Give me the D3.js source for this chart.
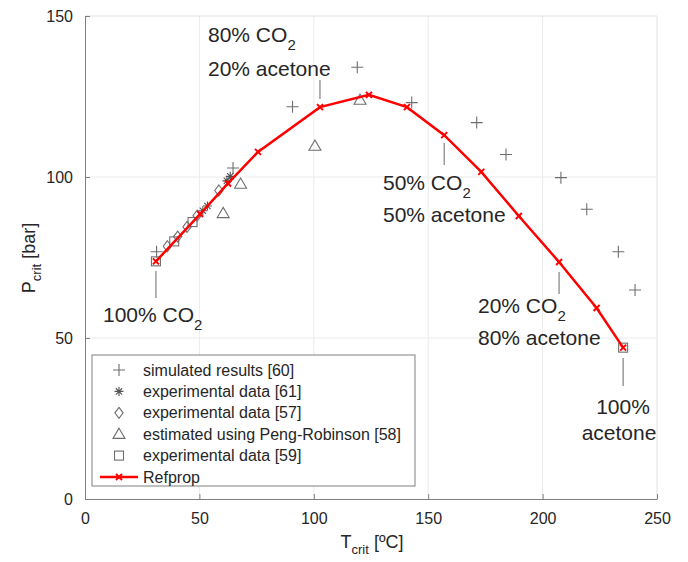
<!DOCTYPE html>
<html>
<head>
<meta charset="utf-8">
<script src="https://cdn.jsdelivr.net/npm/d3@7"></script>
<style>
  body { margin: 0; background: #fff; }
  svg text { font-family: "Liberation Sans", Arial, sans-serif; fill: #262626; }
</style>
</head>
<body>
<div id="chart"></div>
<script>
// ---- data ----
const xTicks = [0, 50, 100, 150, 200, 250];
const yTicks = [0, 50, 100, 150];

// Refprop curve: [T, P]
const refprop = [
  [31.0, 73.8], [50.3, 88.5], [62.5, 98.0], [75.6, 107.8], [102.7, 121.7],
  [124.1, 125.5], [140.7, 121.7], [157.0, 113.0], [173.2, 101.6],
  [189.6, 87.9], [207.2, 73.6], [223.6, 59.3], [235.2, 47.0]
];
const simulated = [
  [31.3, 76.8], [64.7, 102.8], [90.7, 121.8], [119.0, 134.1], [142.8, 123.1],
  [171.2, 116.9], [184.0, 107.0], [208.0, 99.8], [219.3, 90.0], [233.1, 76.8], [240.4, 64.9]
];
const exp61 = [[51.5, 89.5], [53.5, 91.0], [62.0, 98.8], [63.5, 100.2]];
const exp57 = [[36.0, 78.5], [40.5, 81.5], [44.6, 84.5], [49.0, 88.0], [58.5, 95.8]];
const pengRobinson = [[60.4, 88.7], [68.0, 97.8], [100.5, 109.6], [120.2, 123.9]];
const exp59 = [[31.0, 73.8], [39.0, 80.0], [47.0, 86.0], [235.2, 47.0]];

const legendLabels = [
  'simulated results [60]', 'experimental data [61]', 'experimental data [57]',
  'estimated using Peng-Robinson [58]', 'experimental data [59]', 'Refprop'
];

// ---- layout ----
const W = 688, H = 562;
const svg = d3.select('#chart').append('svg').attr('width', W).attr('height', H);
const x = d3.scaleLinear().domain([0, 250]).range([85, 657]);
const y = d3.scaleLinear().domain([0, 150]).range([499, 16]);
const GRAY = '#6e6e6e', RED = '#ff0000';

// grid
svg.append('g').selectAll('line').data(xTicks.slice(1, -1)).join('line')
  .attr('x1', d => x(d)).attr('x2', d => x(d)).attr('y1', y(0)).attr('y2', y(150))
  .attr('stroke', '#ebebeb');
svg.append('g').selectAll('line').data(yTicks.slice(1, -1)).join('line')
  .attr('y1', d => y(d)).attr('y2', d => y(d)).attr('x1', x(0)).attr('x2', x(250))
  .attr('stroke', '#ebebeb');

// box top/right (faint)
svg.append('path').attr('d', `M${x(0)},${y(150)}H${x(250)}V${y(0)}`)
  .attr('fill', 'none').attr('stroke', '#e0e0e0');

// axes
const xAxis = svg.append('g').attr('transform', `translate(0,${y(0)})`)
  .call(d3.axisBottom(x).tickValues(xTicks).tickSizeInner(-5).tickSizeOuter(0).tickPadding(14));
const yAxis = svg.append('g').attr('transform', `translate(${x(0)},0)`)
  .call(d3.axisLeft(y).tickValues(yTicks).tickSizeInner(-5).tickSizeOuter(0).tickPadding(12));
[xAxis, yAxis].forEach(a => {
  a.select('.domain').attr('stroke', '#808080');
  a.selectAll('.tick line').attr('stroke', '#808080');
  a.selectAll('.tick text').style('font-size', '16px').attr('fill', '#262626');
});
xAxis.selectAll('.tick text').attr('dy', '0.71em');

// axis labels
const xl = svg.append('text').attr('x', 372).attr('y', 548).attr('text-anchor', 'middle')
  .style('font-size', '18px');
xl.append('tspan').text('T');
xl.append('tspan').attr('dy', 6).style('font-size', '13px').text('crit');
xl.append('tspan').attr('dy', -6).text(' [ºC]');

const yl = svg.append('text').attr('transform', 'translate(35,258) rotate(-90)')
  .attr('text-anchor', 'middle').style('font-size', '18px');
yl.append('tspan').text('P');
yl.append('tspan').attr('dy', 6).style('font-size', '13px').text('crit');
yl.append('tspan').attr('dy', -6).text(' [bar]');

// ---- marker shapes ----
function plus(g, s) {
  g.append('path').attr('d', `M${-s},0H${s}M0,${-s}V${s}`).attr('stroke', GRAY).attr('stroke-width', 1.1).attr('fill', 'none');
}
function star(g, s) {
  const d = `M${-s},0H${s}M0,${-s}V${s}M${-s * 0.7},${-s * 0.7}L${s * 0.7},${s * 0.7}M${-s * 0.7},${s * 0.7}L${s * 0.7},${-s * 0.7}`;
  g.append('path').attr('d', d).attr('stroke', '#555').attr('stroke-width', 1.1).attr('fill', 'none');
}
function diamond(g, s) {
  g.append('path').attr('d', `M0,${-s}L${s * 0.75},0L0,${s}L${-s * 0.75},0Z`).attr('stroke', GRAY).attr('stroke-width', 1.1).attr('fill', 'none');
}
function triangle(g, s) {
  g.append('path').attr('d', `M0,${-s}L${s},${s * 0.7}L${-s},${s * 0.7}Z`).attr('stroke', GRAY).attr('stroke-width', 1.1).attr('fill', 'none');
}
function square(g, s) {
  g.append('rect').attr('x', -s).attr('y', -s).attr('width', 2 * s).attr('height', 2 * s)
    .attr('stroke', GRAY).attr('stroke-width', 1.1).attr('fill', 'none');
}
function cross(g, s) {
  g.append('path').attr('d', `M${-s},${-s}L${s},${s}M${-s},${s}L${s},${-s}`).attr('stroke', RED).attr('stroke-width', 2).attr('fill', 'none');
}

function scatter(data, shape, size) {
  svg.append('g').selectAll('g').data(data).join('g')
    .attr('transform', d => `translate(${x(d[0])},${y(d[1])})`)
    .each(function () { shape(d3.select(this), size); });
}

scatter(exp59, square, 4.5);
scatter(exp57, diamond, 5.5);
scatter(pengRobinson, triangle, 6);
scatter(simulated, plus, 6);
scatter(exp61, star, 4.5);

// refprop line
svg.append('path').datum(refprop)
  .attr('d', d3.line().x(d => x(d[0])).y(d => y(d[1])))
  .attr('fill', 'none').attr('stroke', RED).attr('stroke-width', 2.5);
scatter(refprop, cross, 3);

// ---- annotations ----
function leader(t, y1, y2) {
  svg.append('line').attr('x1', x(t)).attr('x2', x(t)).attr('y1', y1).attr('y2', y2)
    .attr('stroke', '#808080').attr('stroke-width', 1.2);
}
function co2(tx, ty, pct, anchor) {
  const t = svg.append('text').attr('x', tx).attr('y', ty).style('font-size', '21px')
    .attr('text-anchor', anchor || 'start');
  t.append('tspan').text(pct + '% CO');
  t.append('tspan').attr('dy', 8).style('font-size', '15px').text('2');
}
function plain(tx, ty, s, anchor) {
  svg.append('text').attr('x', tx).attr('y', ty).style('font-size', '21px')
    .attr('text-anchor', anchor || 'start').text(s);
}

leader(31.0, 271, 298);
co2(103, 322, '100');

leader(102.7, 80, 99);
co2(208, 42, '80');
plain(208, 76, '20% acetone');

leader(157.0, 143, 165);
co2(383, 190, '50');
plain(383, 222, '50% acetone');

leader(207.2, 272, 294);
co2(478, 313, '20');
plain(478, 345, '80% acetone');

leader(235.2, 358, 386);
plain(623, 414, '100%', 'middle');
plain(619, 440, 'acetone', 'middle');

// ---- legend ----
const lg = svg.append('g');
lg.append('rect').attr('x', 92).attr('y', 355).attr('width', 323).attr('height', 131)
  .attr('fill', '#fff').attr('stroke', '#808080');
const shapes = [plus, star, diamond, triangle, square];
const sizes = [6, 4.5, 5.5, 6, 4.5];
legendLabels.forEach((lab, i) => {
  const ly = 370 + i * 21.4;
  const g = lg.append('g').attr('transform', `translate(119,${ly})`);
  if (i < 5) shapes[i](g, sizes[i]);
  else {
    g.append('line').attr('x1', -19).attr('x2', 19).attr('stroke', RED).attr('stroke-width', 2.5);
    cross(g, 3);
  }
  lg.append('text').attr('x', 143).attr('y', ly).attr('dy', '0.35em')
    .style('font-size', '16px').text(lab);
});
</script>
</body>
</html>
